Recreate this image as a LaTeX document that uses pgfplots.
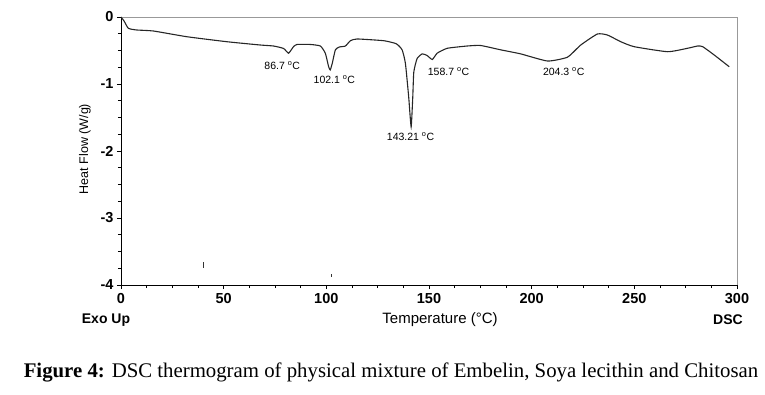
\documentclass[border=0pt]{standalone}
\usepackage{pgfplots}
\pgfplotsset{compat=1.18}
\usepackage{fontspec}
\setmainfont{Liberation Sans}
\newfontfamily\timesf{Liberation Serif}
\begin{document}
\begin{tikzpicture}[x=1pt,y=1pt]
\useasboundingbox (-121pt,-109pt) rectangle (644pt,285pt);
\begin{axis}[
  at={(0pt,0pt)}, anchor=south west,
  scale only axis, width=616pt, height=268pt,
  xmin=0, xmax=300, ymin=-4, ymax=0,
  axis x line*=bottom, axis y line*=left,
  axis line style={black, line width=0.8pt},
  xtick={0,50,...,300}, ytick={-4,-3,-2,-1,0},
  minor x tick num=3, minor y tick num=3,
  tick align=outside,
  major tick length=4pt, minor tick length=3pt,
  tick style={black, line width=0.7pt},
  /pgf/number format/assume math mode=true,
  ticklabel style={font=\bfseries\fontsize{14.5}{14.5}\selectfont},
  xticklabel style={yshift=-1pt},
  clip=false,
]
\draw[gray!80, line width=0.9pt] (rel axis cs:0,1) -- (rel axis cs:1,1) -- (rel axis cs:1,0);
\addplot[black!85, line width=1.1pt, smooth, tension=0.3] coordinates {
(0,0) (1.5,-0.06) (3.6,-0.169) (7.7,-0.194) (15.8,-0.209) (32.0,-0.294) (51.6,-0.369)
(67.8,-0.418) (74.3,-0.433) (79.2,-0.47) (81.6,-0.54) (84.0,-0.443) (85.7,-0.41)
(92.2,-0.41) (97.1,-0.433) (99.5,-0.54) (101.1,-0.74) (101.9,-0.79) (102.9,-0.69)
(104.4,-0.49) (106.3,-0.448) (109.3,-0.433) (111.7,-0.354) (115.0,-0.328) (128.0,-0.354)
(134.1,-0.40) (136.9,-0.49) (138.5,-0.69) (140.1,-1.19) (141.3,-1.64) (142.1,-1.19)
(142.6,-0.82) (144.2,-0.62) (146.7,-0.55) (149.1,-0.575) (151.6,-0.634) (154.0,-0.54)
(158.9,-0.467) (168.6,-0.433) (175.1,-0.425) (184.9,-0.49) (194.6,-0.55) (207.7,-0.657)
(217.4,-0.60) (223.9,-0.418) (232.0,-0.254) (236.9,-0.269) (243.4,-0.369) (249.9,-0.443)
(266.2,-0.518) (275.9,-0.467) (280.8,-0.433) (283.3,-0.443) (288.9,-0.567) (296.2,-0.742)
};
\addplot[black!80, line width=0.8pt] coordinates {(40,-3.66) (40,-3.75)};
\addplot[black!80, line width=0.8pt] coordinates {(102.4,-3.84) (102.4,-3.88)};
\begin{scope}[every node/.style={font=\fontsize{10.5}{11}\selectfont, inner sep=0pt}]
\node at (axis cs:78.5,-0.72) {86.7 \textsuperscript{o}C};
\node at (axis cs:103.9,-0.94) {102.1 \textsuperscript{o}C};
\node at (axis cs:141,-1.79) {143.21 \textsuperscript{o}C};
\node at (axis cs:159.5,-0.81) {158.7 \textsuperscript{o}C};
\node at (axis cs:215.6,-0.82) {204.3 \textsuperscript{o}C};
\end{scope}
\end{axis}
\node[font=\fontsize{12.5}{13}\selectfont, inner sep=0pt, rotate=90] at (-36pt,136pt) {Heat Flow (W/g)};
\node[font=\bfseries\fontsize{14}{14}\selectfont, inner sep=0pt] at (-15pt,-35pt) {Exo Up};
\node[font=\fontsize{15}{15}\selectfont, inner sep=0pt] at (319pt,-35pt) {Temperature (°C)};
\node[font=\bfseries\fontsize{14}{14}\selectfont, inner sep=0pt] at (607pt,-35pt) {DSC};
\node[font=\timesf\fontsize{20.8}{21}\selectfont, inner sep=0pt] at (270pt,-87pt) {\textbf{Figure 4:} DSC thermogram of physical mixture of Embelin, Soya lecithin and Chitosan};
\end{tikzpicture}
\end{document}
